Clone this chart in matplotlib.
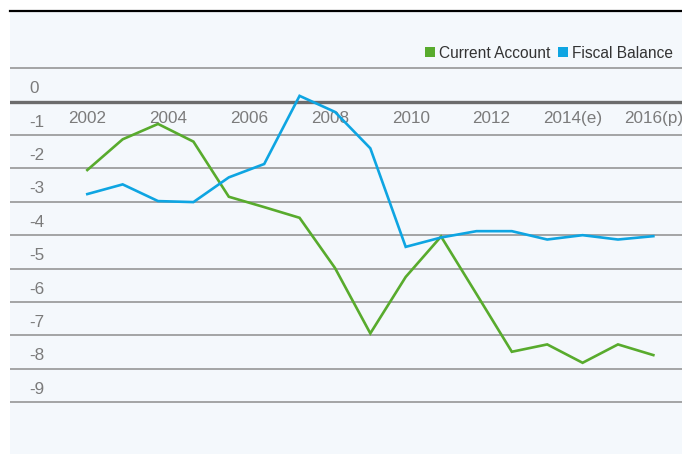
import numpy as np
import matplotlib
matplotlib.use("Agg")
import matplotlib.pyplot as plt
from matplotlib.lines import Line2D
from matplotlib import font_manager

# ---- data ----
x_labels = ["2002", "2004", "2006", "2008", "2010", "2012", "2014(e)", "2016(p)"]
current_account = [-2.05, -1.13, -0.67, -1.20, -2.85, -3.16, -3.48, -4.98, -6.94,
                   -5.25, -4.04, -5.76, -7.49, -7.27, -7.82, -7.27, -7.59]
fiscal_balance = [-2.77, -2.48, -2.98, -3.01, -2.27, -1.87, 0.17, -0.31, -1.40,
                  -4.35, -4.07, -3.88, -3.88, -4.13, -4.00, -4.13, -4.03]
y_values = list(range(0, -10, -1))
y_labels = [str(v) for v in y_values]
series_names = ["Current Account", "Fiscal Balance"]
colors = ["#58ab2d", "#0ea5e2"]

names = {f.name for f in font_manager.fontManager.ttflist}
fam = "Liberation Sans Narrow" if "Liberation Sans Narrow" in names else "Liberation Sans"
plt.rcParams["font.family"] = [fam, "DejaVu Sans"]

W, H = 682, 454
fig = plt.figure(figsize=(W / 100, H / 100), dpi=100)
fig.patch.set_facecolor("white")
ax = fig.add_axes([10 / W, 0, 1 - 10 / W, 1 - 11 / H])
ax.set_facecolor("#f4f8fc")

n = len(current_account)
xs = np.arange(n)
ax.plot(xs, current_account, color=colors[0], lw=1.9, solid_joinstyle="miter", zorder=3)
ax.plot(xs, fiscal_balance, color=colors[1], lw=1.9, solid_joinstyle="miter", zorder=3)

ax.set_xlim(-2.185, 16.81)
ax.set_ylim(-10.55, 2.71)

# gridlines
ax.set_yticks(list(range(-9, 2)))
ax.set_yticklabels([])
ax.tick_params(axis="y", which="major", length=0)
ax.grid(axis="y", which="major", color="#8e8e8e", lw=1.1, zorder=1)
ax.axhline(0, color="#6c6c6c", lw=2.4, zorder=2)

# y labels (placed in the band above each gridline)
ax.set_yticks([v + 0.43 for v in y_values], minor=True)
ax.set_yticklabels(y_labels, minor=True)
ax.tick_params(axis="y", which="minor", length=0, pad=-19.5 * 0.72,
               labelsize=12.3, labelcolor="#7b7b7b")
for lbl in ax.get_yticklabels(minor=True):
    lbl.set_horizontalalignment("left")

# x labels just below the zero line
ax.spines["bottom"].set_position(("data", 0))
ax.set_xticks(np.linspace(0, n - 1, len(x_labels)))
ax.set_xticklabels(x_labels)
ax.tick_params(axis="x", length=0, pad=7, labelsize=12.3, labelcolor="#7b7b7b")
ax.grid(axis="x", visible=False)

for s in ["left", "right", "bottom"]:
    ax.spines[s].set_visible(False)
ax.spines["top"].set_color("black")
ax.spines["top"].set_linewidth(1.6)

handles = [Line2D([], [], ls="none", marker="s", markersize=7.2, color=c,
                  markeredgewidth=0) for c in colors]
leg = ax.legend(handles, series_names, loc="center right",
                bbox_to_anchor=(673 / W, 1 - 53 / H), bbox_transform=fig.transFigure,
                ncol=2, frameon=False, fontsize=11.2, handlelength=0.7,
                handletextpad=0.2, columnspacing=0.5, borderaxespad=0, borderpad=0)
for t in leg.get_texts():
    t.set_color("#333333")

fig.savefig("out.png", dpi=100, facecolor="white")
